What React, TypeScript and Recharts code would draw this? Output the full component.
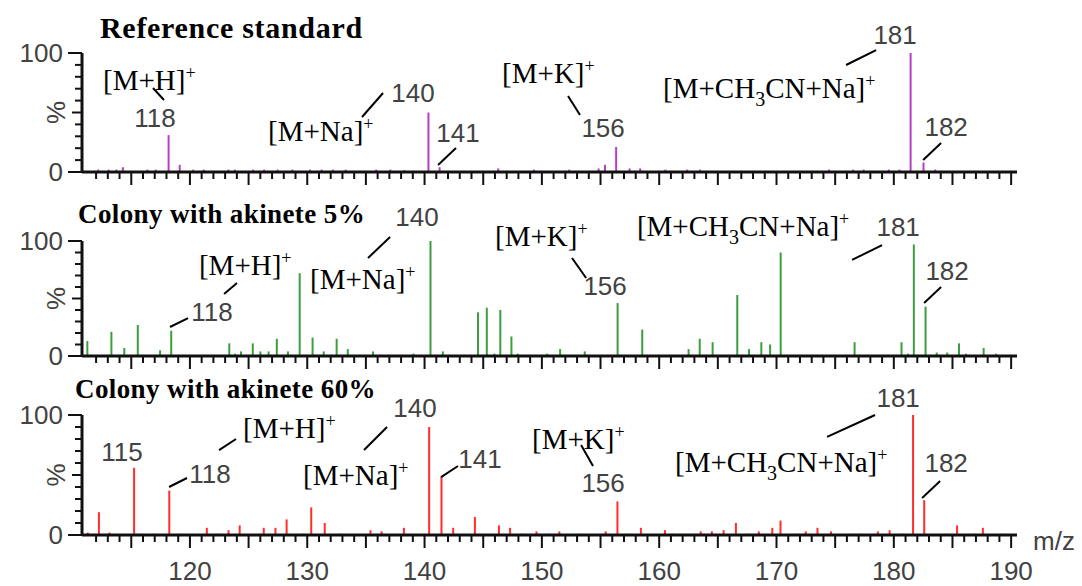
import React from 'react';
import { BarChart, Bar, XAxis, YAxis, ReferenceDot, ReferenceLine } from 'recharts';

const MZ_DOMAIN: [number, number] = [110.8, 190.5];
const MZ_TICKS = Array.from({ length: 79 }, (_, i) => 112 + i);
const PCT_TICKS = [0, 10, 20, 30, 40, 50, 60, 70, 80, 90, 100];

// Reference standard
const refMz = [112.2, 113.1, 113.75, 114.3, 116.4, 117.1, 118.2, 119.15, 120.3, 121.2, 123.3, 123.85, 125.4, 126.35, 127.5, 128.75, 130.25, 131.25, 132.2, 133.3, 135.9, 137.1, 138.3, 140.35, 141.3, 146.3, 149.35, 152.35, 154.85, 155.4, 156.35, 157.5, 158.4, 160.55, 162.4, 163.5, 174.5, 176.55, 177.45, 179.6, 180.5, 181.45, 182.55, 183.55];
const refPct = [2, 2, 2, 4, 2, 2, 31, 6, 2, 2, 2, 2, 2, 2, 2, 2, 2, 2, 2, 2, 2, 2, 1.5, 50, 4, 3, 2, 2, 3, 6, 21, 3, 3, 2, 2, 2, 2, 2, 2, 2, 2, 100, 8, 2];

// Colony with akinete 5%
const ak5Mz = [111.25, 113.3, 114.4, 115.55, 117.45, 118.4, 123.35, 123.85, 124.35, 125.35, 126.0, 126.7, 127.4, 128.35, 129.35, 130.45, 131.4, 132.5, 133.45, 135.6, 139.05, 140.5, 141.55, 144.55, 145.3, 145.95, 146.45, 147.4, 147.95, 150.45, 151.55, 153.65, 156.45, 158.55, 162.5, 163.45, 164.55, 166.65, 167.65, 168.7, 169.45, 170.35, 176.65, 180.65, 181.2, 181.7, 182.7, 183.65, 184.55, 185.55, 186.15, 187.65, 188.7];
const ak5Pct = [13, 21, 7, 27, 5, 22, 11, 2, 4, 11, 4, 4, 15, 4, 72, 16, 4, 15, 6, 4, 2, 100, 4, 38, 42, 2, 40, 17, 2, 2, 6, 4, 46, 23, 6, 15, 12, 53, 6, 12, 10, 90, 12, 12, 2, 97, 43, 3, 3, 11, 2, 7, 2];

// Colony with akinete 60%
const ak60Mz = [111.25, 112.2, 113.1, 115.2, 115.8, 116.85, 118.2, 119.15, 121.4, 122.3, 123.25, 124.2, 126.25, 127.25, 128.2, 129.65, 130.3, 131.45, 132.75, 135.35, 136.3, 138.2, 140.35, 141.4, 142.4, 144.25, 146.3, 147.25, 148.25, 149.5, 150.4, 151.45, 153.3, 155.4, 156.4, 157.4, 158.4, 160.45, 161.1, 162.4, 163.5, 164.45, 165.45, 166.5, 167.5, 168.45, 169.6, 170.3, 171.75, 172.45, 173.45, 174.6, 176.45, 177.1, 178.6, 179.6, 180.7, 181.6, 182.55, 184.35, 185.35, 186.9, 187.55, 189.2];
const ak60Pct = [2, 19, 2, 56, 1, 1, 37, 1, 6, 1, 4, 8, 6, 6, 13, 1, 23, 10, 1, 4, 3, 6, 90, 49, 6, 15, 8, 6, 1, 3, 1, 3, 1, 3, 28, 1, 6, 4, 1, 1, 3, 3, 4, 10, 1, 3, 6, 12, 1, 3, 6, 3, 1, 1, 3, 4, 1, 100, 29, 1, 8, 1, 6, 1];

type Ann = { text: string; mz: number; pct: number; ion?: boolean };

const refLabels: Ann[] = [
  { text: '[M+H]^+', mz: 112.59, pct: 75.6, ion: true },
  { text: '118', mz: 117.02, pct: 45.4 },
  { text: '[M+Na]^+', mz: 126.66, pct: 32.8, ion: true },
  { text: '140', mz: 139.02, pct: 66.4 },
  { text: '141', mz: 142.85, pct: 32.8 },
  { text: '[M+K]^+', mz: 146.61, pct: 81.5, ion: true },
  { text: '156', mz: 155.22, pct: 37 },
  { text: '[M+CH_3CN+Na]^+', mz: 160.33, pct: 68.9, ion: true },
  { text: '181', mz: 180.11, pct: 115.1 },
  { text: '182', mz: 184.46, pct: 37.8 },
];
const refLeaders = [
  [116.85, 70.6, 117.79, 60.5],
  [134.67, 46.2, 136.46, 66.4],
  [141.15, 5.9, 142.68, 20.2],
  [152.23, 63.9, 153.25, 47.9],
  [175.93, 89.9, 178.49, 102.5],
  [182.5, 10.1, 184.03, 24.4],
];

const ak5Labels: Ann[] = [
  { text: '[M+H]^+', mz: 120.77, pct: 77.4, ion: true },
  { text: '118', mz: 121.88, pct: 38.3 },
  { text: '[M+Na]^+', mz: 130.24, pct: 65.2, ion: true },
  { text: '140', mz: 139.36, pct: 120.9 },
  { text: '[M+K]^+', mz: 146.01, pct: 102.6, ion: true },
  { text: '156', mz: 155.39, pct: 60.9 },
  { text: '[M+CH_3CN+Na]^+', mz: 158.1, pct: 111.3, ion: true },
  { text: '181', mz: 180.37, pct: 112.2 },
  { text: '182', mz: 184.54, pct: 73.9 },
];
const ak5Leaders = [
  [122.91, 53.9, 124.01, 63.5],
  [118.3, 25.2, 119.84, 33.0],
  [135.18, 85.2, 137.06, 103.5],
  [152.57, 85.2, 153.77, 67.8],
  [176.44, 83.5, 179.0, 96.5],
  [182.58, 46.1, 184.03, 60],
];

const ak60Labels: Ann[] = [
  { text: '115', mz: 114.21, pct: 69.2 },
  { text: '[M+H]^+', mz: 124.53, pct: 87.5, ion: true },
  { text: '118', mz: 121.71, pct: 50.8 },
  { text: '[M+Na]^+', mz: 129.64, pct: 48.3, ion: true },
  { text: '140', mz: 139.19, pct: 105.8 },
  { text: '141', mz: 144.73, pct: 63.3 },
  { text: '[M+K]^+', mz: 149.16, pct: 78.3, ion: true },
  { text: '156', mz: 155.22, pct: 43.3 },
  { text: '[M+CH_3CN+Na]^+', mz: 161.35, pct: 59.2, ion: true },
  { text: '181', mz: 180.37, pct: 114.2 },
  { text: '182', mz: 184.46, pct: 60 },
];
const ak60Leaders = [
  [122.48, 70.8, 123.93, 80],
  [118.22, 40, 119.75, 47.5],
  [134.84, 70.8, 136.8, 90],
  [141.41, 48.3, 142.85, 57.5],
  [153.34, 75, 154.36, 57.5],
  [174.31, 81.7, 178.4, 100],
  [182.41, 30.8, 183.95, 45],
];

const SANS = 'Liberation Sans, Arial, sans-serif';
const SERIF = 'Liberation Serif, Times New Roman, serif';
const GREY = '#424242';

function IonText({ x, y, text }: { x: number; y: number; text: string }) {
  const segs = text.split(/([_^].)/).filter(Boolean);
  let shift = 0;
  return (
    <text x={x} y={y + 8} fontFamily={SERIF} fontSize={29} fill="#000">
      {segs.map((s, i) => {
        let target = 0;
        let size = 29;
        let content = s;
        if (s[0] === '_') { target = 8; size = 20; content = s.slice(1); }
        else if (s[0] === '^') { target = -11; size = 18; content = s.slice(1); }
        const dy = target - shift;
        shift = target;
        return <tspan key={i} dy={dy} fontSize={size}>{content}</tspan>;
      })}
    </text>
  );
}

function annLabel(a: Ann) {
  return (p: any) => {
    const vb = p.viewBox ?? p;
    const x = vb.x + (vb.width ?? 0) / 2;
    const y = vb.y + (vb.height ?? 0) / 2;
    if (a.ion) return <IonText x={x} y={y} text={a.text} />;
    return (
      <text x={x} y={y + 9} textAnchor="middle" fontFamily={SANS} fontSize={26} fill={GREY}>
        {a.text}
      </text>
    );
  };
}

function XTick(props: any) {
  const { x, y, payload, showLabel } = props;
  const v = payload.value;
  const major = v % 5 === 0;
  return (
    <g>
      <line x1={x} x2={x} y1={y} y2={y + (major ? 13 : 7)} stroke="#111" strokeWidth={2} />
      {showLabel && v % 10 === 0 && (
        <text x={x} y={y + 45} textAnchor="middle" fontFamily={SANS} fontSize={26} fill={GREY}>
          {v}
        </text>
      )}
    </g>
  );
}

function YTick(props: any) {
  const { x, y, payload } = props;
  const v = payload.value;
  const len = v === 0 || v === 100 ? 14 : v === 50 ? 10 : 7;
  return (
    <g>
      <line x1={x - len} x2={x} y1={y} y2={y} stroke="#111" strokeWidth={2} />
      {(v === 0 || v === 100) && (
        <text x={x - 19} y={y + 9} textAnchor="end" fontFamily={SANS} fontSize={26} fill={GREY}>
          {v}
        </text>
      )}
      {v === 50 && (
        <text
          transform={`translate(${x - 26},${y}) rotate(-90)`}
          textAnchor="middle"
          dominantBaseline="central"
          fontFamily={SANS}
          fontSize={26}
          fill={GREY}
        >
          %
        </text>
      )}
    </g>
  );
}

interface PanelProps {
  top: number;
  height: number;
  marginTop: number;
  axisHeight: number;
  mz: number[];
  pct: number[];
  color: string;
  labels: Ann[];
  leaders: number[][];
  showTickLabels?: boolean;
}

function Panel({ top, height, marginTop, axisHeight, mz, pct, color, labels, leaders, showTickLabels }: PanelProps) {
  const data = mz.map((m, i) => ({ mz: m, pct: pct[i] }));
  return (
    <div style={{ position: 'absolute', left: 0, top }}>
      <BarChart
        width={1082}
        height={height}
        data={data}
        margin={{ top: marginTop, right: 65, left: 0, bottom: 0 }}
      >
        <XAxis
          dataKey="mz"
          type="number"
          domain={MZ_DOMAIN}
          allowDataOverflow
          ticks={MZ_TICKS}
          interval={0}
          height={axisHeight}
          tickSize={0}
          tickMargin={0}
          tickLine={false}
          axisLine={{ stroke: '#111', strokeWidth: 3 }}
          tick={(p: any) => <XTick {...p} showLabel={showTickLabels} />}
        />
        <YAxis
          type="number"
          domain={[0, 100]}
          allowDataOverflow
          ticks={PCT_TICKS}
          interval={0}
          width={82}
          tickSize={0}
          tickMargin={0}
          tickLine={false}
          axisLine={{ stroke: '#111', strokeWidth: 3 }}
          tick={(p: any) => <YTick {...p} />}
        />
        <Bar dataKey="pct" fill={color} barSize={2} isAnimationActive={false} />
        {leaders.map((l, i) => (
          <ReferenceLine
            key={`l${i}`}
            segment={[{ x: l[0], y: l[1] }, { x: l[2], y: l[3] }]}
            stroke="#000"
            strokeWidth={2}
            ifOverflow="visible"
          />
        ))}
        {labels.map((a, i) => (
          <ReferenceDot
            key={`a${i}`}
            x={a.mz}
            y={a.pct}
            r={0}
            stroke="none"
            fill="none"
            ifOverflow="visible"
            label={annLabel(a)}
          />
        ))}
      </BarChart>
    </div>
  );
}

export default function App() {
  return (
    <div style={{ position: 'absolute', left: 0, top: 0, width: 1082, height: 586, background: '#fff', overflow: 'hidden' }}>
      <Panel top={0} height={190} marginTop={53} axisHeight={18} mz={refMz} pct={refPct} color="#b53fc4" labels={refLabels} leaders={refLeaders} />
      <Panel top={190} height={180} marginTop={51} axisHeight={14} mz={ak5Mz} pct={ak5Pct} color="#3c9e3c" labels={ak5Labels} leaders={ak5Leaders} />
      <Panel top={370} height={216} marginTop={45} axisHeight={51} mz={ak60Mz} pct={ak60Pct} color="#ff2d2d" labels={ak60Labels} leaders={ak60Leaders} showTickLabels />
      <svg width={1082} height={586} style={{ position: 'absolute', left: 0, top: 0, pointerEvents: 'none' }}>
        <text x={100} y={38} fontFamily={SERIF} fontWeight="bold" fontSize={30} letterSpacing={0.7} fill="#000">
          Reference standard
        </text>
        <text x={78} y={223} fontFamily={SERIF} fontWeight="bold" fontSize={27} letterSpacing={0.4} fill="#000">
          Colony with akinete 5%
        </text>
        <text x={75} y={398} fontFamily={SERIF} fontWeight="bold" fontSize={27} letterSpacing={0.4} fill="#000">
          Colony with akinete 60%
        </text>
        <text x={1033} y={550} fontFamily={SANS} fontSize={26} fill={GREY}>
          m/z
        </text>
      </svg>
    </div>
  );
}
